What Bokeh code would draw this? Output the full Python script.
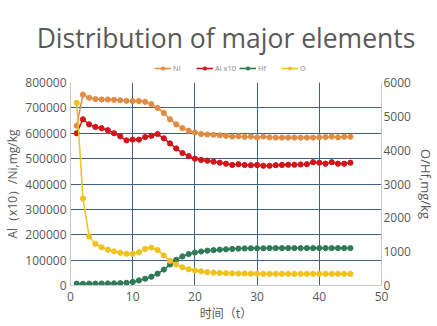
from bokeh.plotting import figure
from bokeh.layouts import column
from bokeh.models import (Range1d, LinearAxis, FixedTicker, BasicTickFormatter,
                          Legend, LegendItem, ColumnDataSource)
from bokeh.embed import file_html
from bokeh.resources import INLINE

t = list(range(1, 46))
ni = [630000, 752000, 740000, 735000, 733000, 733000, 732000, 730000, 728000, 727000,
      727000, 724000, 715000, 700000, 680000, 655000, 635000, 620000, 610000, 603000,
      597000, 595000, 594000, 592000, 590000, 587000, 588000, 586000, 587000, 583000,
      587000, 584000, 583000, 583000, 583000, 583000, 583000, 583000, 583000, 584000,
      585000, 587000, 584000, 586000, 586000]
al10 = [600000, 655000, 635000, 625000, 620000, 612000, 600000, 588000, 572000, 575000,
        575000, 585000, 590000, 597000, 580000, 560000, 540000, 522000, 510000, 500000,
        495000, 492000, 488000, 484000, 480000, 475000, 478000, 475000, 474000, 475000,
        472000, 472000, 474000, 475000, 476000, 476000, 477000, 478000, 486000, 484000,
        480000, 486000, 480000, 480000, 484000]
hf = [55, 50, 55, 55, 58, 60, 62, 68, 80, 105,
      150, 200, 260, 350, 470, 620, 760, 860, 930, 975,
      1005, 1030, 1045, 1060, 1070, 1080, 1090, 1095, 1100, 1100,
      1100, 1105, 1105, 1105, 1105, 1105, 1105, 1105, 1105, 1105,
      1105, 1105, 1105, 1105, 1105]
o = [5400, 2570, 1450, 1230, 1130, 1060, 1010, 970, 940, 940,
     980, 1080, 1120, 1050, 890, 730, 620, 540, 480, 445,
     420, 395, 380, 370, 365, 360, 355, 355, 350, 350,
     345, 345, 345, 345, 345, 345, 345, 345, 345, 345,
     345, 345, 345, 345, 345]

left_ticks = [0, 100000, 200000, 300000, 400000, 500000, 600000, 700000, 800000]
right_ticks = [0, 1000, 2000, 3000, 4000, 5000, 6000]
x_ticks = [0, 10, 20, 30, 40, 50]

FONT = "Open Sans"
TXT = "#595959"
GRID = "#3E6188"
HEAD_H = 74

series = [("ni", "#E08C45", "default", "Ni"),
          ("al10", "#D0141A", "default", "Al x10"),
          ("hf", "#2F7A58", "right", "Hf"),
          ("o", "#F0C21C", "right", "O")]

src = ColumnDataSource(dict(t=t, ni=ni, al10=al10, hf=hf, o=o))

# ---- header: title + legend ----
head = figure(width=437, height=HEAD_H, output_backend="svg", toolbar_location=None,
              title="Distribution of major elements",
              x_range=Range1d(0, 1), y_range=Range1d(-2, -1),
              min_border_left=70, min_border_right=54, min_border_top=56,
              min_border_bottom=0)
head.axis.visible = False
head.grid.visible = False
head.outline_line_color = None
head.title.align = "center"
head.title.text_font = FONT
head.title.text_font_size = "26.5px"
head.title.text_font_style = "normal"
head.title.text_color = TXT
head.title.standoff = 2

items = []
for col, color, rng, label in series:
    l = head.line("t", col, source=src, color=color, line_width=1.6)
    c = head.scatter("t", col, source=src, color=color, size=5)
    items.append(LegendItem(label=label, renderers=[l, c]))
legend = Legend(items=items, orientation="horizontal", location=(84, 1),
                label_text_font=FONT, label_text_font_size="7.5px", label_text_color="#8a8a8a",
                glyph_width=17, glyph_height=8, label_standoff=2, spacing=3,
                padding=2, margin=0, border_line_color=None, background_fill_alpha=0,
                label_height=8)
head.add_layout(legend, "center")

# ---- main chart ----
p = figure(width=437, height=326 - HEAD_H, output_backend="svg", toolbar_location=None,
           x_range=Range1d(0, 50), y_range=Range1d(0, 800000),
           min_border_left=70, min_border_right=54, min_border_top=82 - HEAD_H,
           min_border_bottom=41)
p.extra_y_ranges = {"right": Range1d(0, 6000)}
p.outline_line_color = None

for col, color, rng, label in series:
    p.line("t", col, source=src, color=color, line_width=1.5, y_range_name=rng)
    p.scatter("t", col, source=src, color=color, size=5.2, y_range_name=rng)

ax = p.yaxis[0]
ax.ticker = FixedTicker(ticks=left_ticks)
ax.formatter = BasicTickFormatter(use_scientific=False)
ax.axis_label = "Al（x10）/Ni,mg/kg"

rax = LinearAxis(y_range_name="right", ticker=FixedTicker(ticks=right_ticks),
                 axis_label="O/Hf,mg/kg")
p.add_layout(rax, "right")

p.xaxis[0].ticker = FixedTicker(ticks=x_ticks)
p.xaxis[0].axis_label = "时间（t）"

for a in [p.xaxis[0], ax, rax]:
    a.major_tick_line_color = None
    a.minor_tick_line_color = None
    a.major_tick_out = 0
    a.major_tick_in = 0
    a.minor_tick_out = 0
    a.minor_tick_in = 0
    a.axis_line_color = "#C8C8C8"
    a.major_label_text_font = FONT
    a.major_label_text_font_size = "12px"
    a.major_label_text_color = TXT
    a.axis_label_text_font = FONT
    a.axis_label_text_font_size = "12px"
    a.axis_label_text_font_style = "normal"
    a.axis_label_text_color = TXT
p.xaxis[0].axis_label_text_font = "Noto Sans CJK SC"
p.xaxis[0].major_label_standoff = 6
p.xaxis[0].axis_label_standoff = 0
ax.major_label_standoff = 4
ax.axis_label_standoff = 1
rax.major_label_standoff = 2
rax.axis_label_standoff = 3
rax.axis_label_text_font_size = "13px"

p.xgrid.ticker = FixedTicker(ticks=[10, 20, 30, 40])
p.ygrid.ticker = FixedTicker(ticks=left_ticks[1:])
p.xgrid.grid_line_color = GRID
p.ygrid.grid_line_color = GRID

layout = column(head, p, spacing=0)
open("out.html", "w").write(file_html(layout, INLINE))
